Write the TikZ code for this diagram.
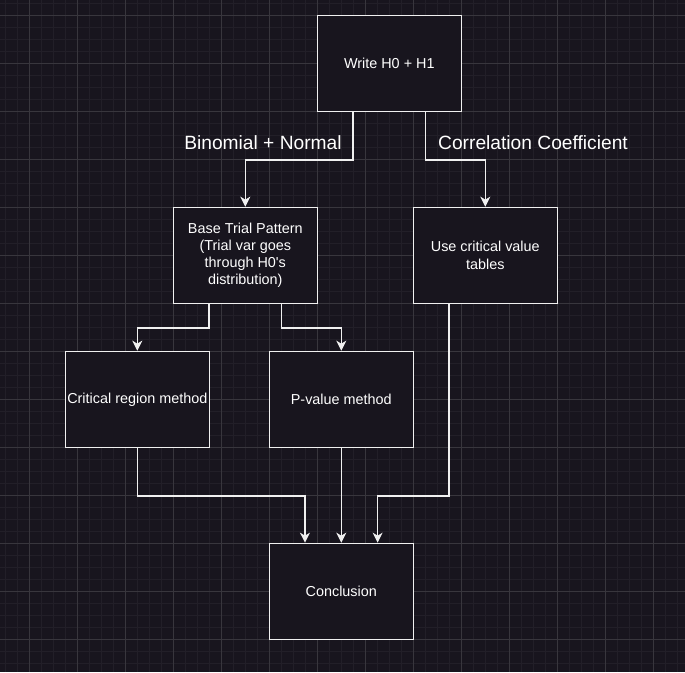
\documentclass[tikz,border=0pt]{standalone}
\usepackage{fontspec}
\setmainfont{Liberation Sans}
\usetikzlibrary{arrows.meta,calc}
\definecolor{bg}{HTML}{18151E}
\definecolor{gridminor}{HTML}{221F28}
\definecolor{gridmajor}{HTML}{38363D}
\definecolor{ln}{HTML}{F0F0F0}
\tikzset{
  box/.style={draw=ln, line width=1.3pt, fill=bg, rectangle, minimum width=144pt, minimum height=96pt, inner sep=1pt, align=center, text=white, font=\fontsize{14.4}{17.3}\selectfont},
  arr/.style={draw=ln, line width=1.3pt, -{Stealth[length=10pt,width=10pt,inset=3pt]}},
  lbl/.style={text=white, font=\fontsize{19.2}{23}\selectfont, inner sep=0pt}
}
\begin{document}
\begin{tikzpicture}[x=1pt,y=-1pt]
\useasboundingbox (0,0) rectangle (685,672);
\fill[bg] (0,0) rectangle (685,672);
\foreach \i in {0,...,57} {
  \draw[gridminor, line width=0.8pt] ({5.3+12*\i},0) -- ({5.3+12*\i},672);
}
\foreach \i in {0,...,56} {
  \draw[gridminor, line width=0.8pt] (0,{3.3+12*\i}) -- (685,{3.3+12*\i});
}
\foreach \i in {0,...,13} {
  \draw[gridmajor, line width=0.9pt] ({29.3+48*\i},0) -- ({29.3+48*\i},672);
  \draw[gridmajor, line width=0.9pt] (0,{15.3+48*\i}) -- (685,{15.3+48*\i});
}
\node[box] (w) at (389.3,63.3) {Write H0 + H1};
\node[box] (b) at (245.3,255.3) {Base Trial Pattern\\(Trial var goes\\through H0\textquotesingle s\\distribution)};
\node[box] (u) at (485.3,255.3) {Use critical value\\tables};
\node[box] (c) at (137.3,399.3) {Critical region method};
\node[box] (p) at (341.3,399.3) {P-value method};
\node[box] (k) at (341.3,591.3) {Conclusion};

\draw[arr] ($(w.south west)!0.25!(w.south east)$) -- ++(0,48) -| (b.north);
\draw[arr] ($(w.south west)!0.75!(w.south east)$) -- ++(0,48) -| (u.north);
\draw[arr] ($(b.south west)!0.25!(b.south east)$) -- ++(0,24) -| (c.north);
\draw[arr] ($(b.south west)!0.75!(b.south east)$) -- ++(0,24) -| (p.north);
\draw[arr] (c.south) -- ++(0,48) -| ($(k.north west)!0.25!(k.north east)$);
\draw[arr] (p.south) -- (k.north);
\draw[arr] ($(u.south west)!0.25!(u.south east)$) -- ++(0,192) -| ($(k.north west)!0.75!(k.north east)$);

\node[lbl] (l1) at (263,142.5) {Binomial + Normal};
\node[lbl] (l2) at (533,142.5) {Correlation Coefficient};
\end{tikzpicture}
\end{document}
